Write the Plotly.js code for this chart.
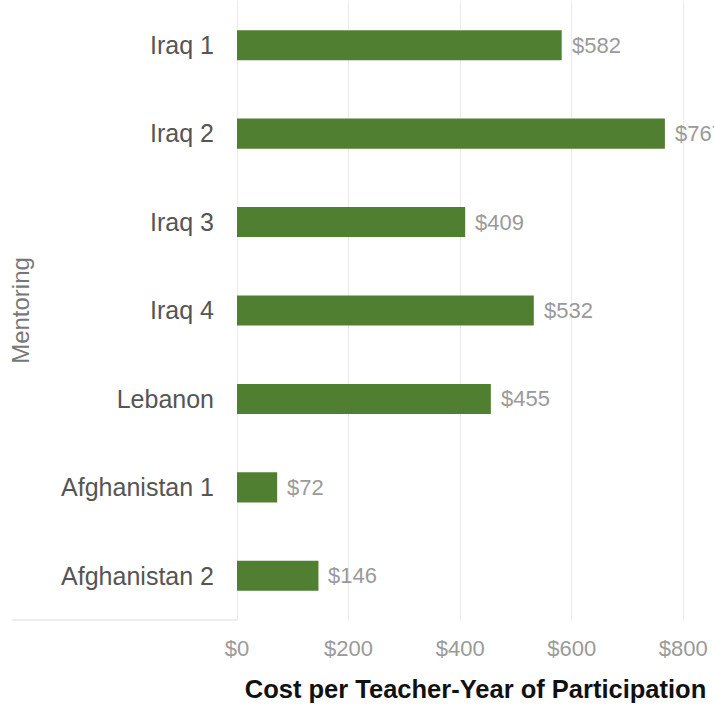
<!DOCTYPE html>
<html>
<head>
<meta charset="utf-8">
<script src="https://cdn.plot.ly/plotly-3.0.1.min.js"></script>
<style>html,body{margin:0;padding:0;background:#fff;}#chart{width:714px;height:708px;}</style>
</head>
<body>
<div id="chart"></div>
<script>
const categories = ["Iraq 1", "Iraq 2", "Iraq 3", "Iraq 4", "Lebanon", "Afghanistan 1", "Afghanistan 2"];
const costs = [582, 767, 409, 532, 455, 72, 146];
const valueLabels = ["$582", "$767", "$409", "$532", "$455", "$72", "$146"];
const xTickVals = [0, 200, 400, 600, 800];
const xTickText = ["$0", "$200", "$400", "$600", "$800"];

const FONT = "Liberation Sans, Arial, Helvetica, sans-serif";

const trace = {
  type: "bar",
  orientation: "h",
  y: categories,
  x: costs,
  marker: {color: "#517f31"},
  hoverinfo: "none"
};

const annotations = categories.map((c, i) => ({
  x: costs[i], y: c, xref: "x", yref: "y",
  text: valueLabels[i], showarrow: false,
  xanchor: "left", yanchor: "middle", xshift: 8,
  font: {family: FONT, size: 22, color: "#9a9a9a"}
}));

const layout = {
  width: 714, height: 708,
  margin: {l: 237, r: 0, t: 1, b: 88, pad: 0},
  paper_bgcolor: "#fff", plot_bgcolor: "#fff",
  bargap: 0.66,
  showlegend: false,
  xaxis: {
    range: [0, 855],
    tickvals: xTickVals, ticktext: xTickText,
    showgrid: true, gridcolor: "#ebebeb", gridwidth: 1,
    zeroline: true, zerolinecolor: "#ebebeb", zerolinewidth: 1,
    showline: false, ticks: "",
    ticklabelstandoff: 13,
    tickfont: {family: FONT, size: 22, color: "#9a9a9a"},
    title: {text: "<b>Cost per Teacher-Year of Participation</b>", standoff: 20,
            font: {family: FONT, size: 25.5, color: "#111"}},
    fixedrange: true
  },
  yaxis: {
    autorange: "reversed",
    showgrid: false, zeroline: false, showline: false, ticks: "",
    ticklabelstandoff: 22,
    tickfont: {family: FONT, size: 25, color: "#555"},
    title: {text: "Mentoring", standoff: 24, font: {family: FONT, size: 24, color: "#777"}},
    fixedrange: true
  },
  annotations: annotations,
  shapes: [{
    type: "line", xref: "paper", yref: "paper",
    x0: -0.472, x1: 0, y0: 0, y1: 0,
    line: {color: "#eeeeee", width: 2}
  }]
};

Plotly.newPlot("chart", [trace], layout, {displayModeBar: false, staticPlot: true});
</script>
</body>
</html>
